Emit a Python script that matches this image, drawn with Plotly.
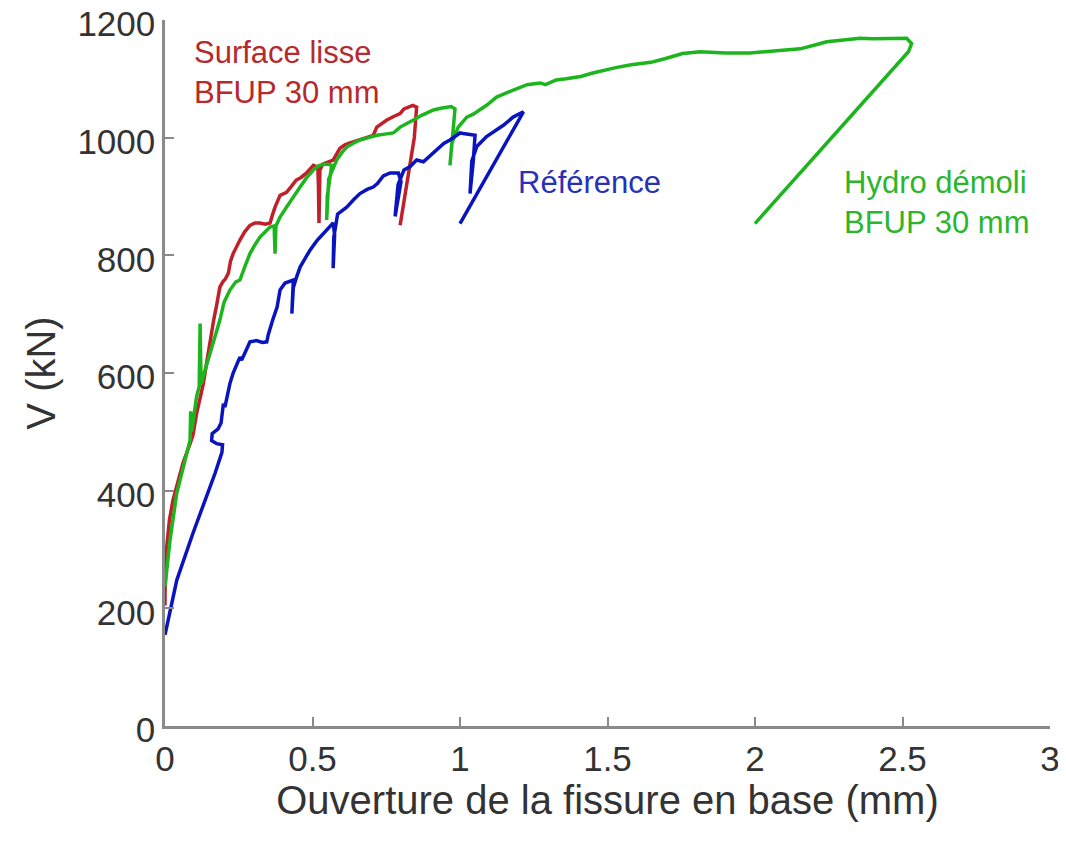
import plotly.graph_objects as go

# Surface lisse BFUP 30 mm (red)
red_x = [0, 0.0, 0.005, 0.015, 0.027, 0.045, 0.061, 0.085, 0.095, 0.107, 0.119, 0.13, 0.142, 0.153, 0.165,
         0.176, 0.186, 0.196, 0.205, 0.215, 0.222, 0.231, 0.242, 0.254, 0.27, 0.288, 0.305, 0.322, 0.34, 0.356,
         0.365, 0.373, 0.39, 0.40, 0.412, 0.425, 0.435, 0.445, 0.46, 0.48, 0.503, 0.518, 0.52, 0.522, 0.525,
         0.535, 0.55, 0.57, 0.593, 0.61, 0.627, 0.65, 0.672, 0.69, 0.706, 0.718, 0.735, 0.752, 0.775, 0.797,
         0.81, 0.824, 0.84, 0.853, 0.845, 0.797]
red_y = [205, 225, 300, 350, 384, 420, 447, 480, 495, 531, 560, 582, 620, 656, 690,
         718, 746, 755, 760, 770, 790, 803, 815, 826, 840, 851, 855, 855, 853, 855,
         870, 882, 902, 905, 907, 915, 922, 928, 932, 940, 953, 950, 920, 855, 945,
         955, 958, 962, 982, 988, 991, 995, 999, 1002, 1004, 1018, 1024, 1030, 1036, 1041,
         1049, 1052, 1055, 1052, 1000, 851]

# Hydro démoli BFUP 30 mm (green)
green_x = [0, 0.005, 0.017, 0.04, 0.061, 0.068, 0.08, 0.085, 0.087, 0.09, 0.096, 0.107, 0.116, 0.119, 0.122,
           0.124, 0.13, 0.153, 0.17, 0.186, 0.2, 0.22, 0.24, 0.254, 0.27, 0.288, 0.305, 0.322, 0.34, 0.356,
           0.37, 0.373, 0.376, 0.39, 0.412, 0.435, 0.458, 0.48, 0.503, 0.52, 0.537, 0.555, 0.565, 0.55, 0.548,
           0.555, 0.582, 0.6, 0.616, 0.64, 0.661, 0.69, 0.718, 0.745, 0.774, 0.797, 0.82, 0.842, 0.87, 0.91,
           0.935, 0.955, 0.97, 0.983, 0.975, 0.966, 0.972, 0.994, 1.023, 1.045, 1.068, 1.09, 1.124, 1.15, 1.181,
           1.227, 1.271, 1.29, 1.326, 1.36, 1.409, 1.45, 1.49, 1.528, 1.58, 1.647, 1.70, 1.754, 1.814, 1.85,
           1.9, 1.983, 2.03, 2.08, 2.153, 2.2, 2.243, 2.3, 2.356, 2.4, 2.45, 2.514, 2.531, 2.52, 2.0]
green_y = [237, 260, 316, 396, 440, 452, 480, 486, 535, 500, 520, 560, 577, 684, 590,
           582, 595, 633, 660, 690, 720, 741, 755, 758, 780, 803, 818, 831, 840, 848,
           850, 803, 850, 865, 882, 900, 916, 932, 945, 952, 955, 955, 953, 900, 860,
           930, 962, 975, 984, 991, 996, 1000, 1004, 1006, 1008, 1018, 1025, 1030, 1038, 1047,
           1050, 1052, 1053, 1049, 1000, 953, 990, 1018, 1035, 1040, 1047, 1055, 1069, 1075, 1081,
           1090, 1093, 1090, 1098, 1100, 1104, 1110, 1115, 1119, 1124, 1128, 1135, 1143, 1146, 1145,
           1144, 1144, 1146, 1148, 1151, 1157, 1163, 1166, 1169, 1168, 1169, 1169, 1160, 1146, 854]

# Référence (blue)
blue_x = [0, 0.04, 0.095, 0.141, 0.17, 0.193, 0.195, 0.175, 0.158, 0.16, 0.18, 0.19, 0.198, 0.203, 0.22,
          0.231, 0.254, 0.26, 0.288, 0.31, 0.33, 0.345, 0.35, 0.365, 0.38, 0.39, 0.407, 0.435, 0.43, 0.435,
          0.446, 0.458, 0.475, 0.492, 0.515, 0.537, 0.555, 0.57, 0.575, 0.57, 0.572, 0.585, 0.616, 0.64, 0.661,
          0.685, 0.706, 0.72, 0.729, 0.74, 0.763, 0.791, 0.8, 0.78, 0.79, 0.81, 0.831, 0.853, 0.876, 0.9,
          0.921, 0.945, 0.966, 1.0, 1.011, 1.03, 1.051, 1.045, 1.034, 1.04, 1.057, 1.09, 1.12, 1.147, 1.18,
          1.215, 1.0]
blue_y = [155, 248, 328, 390, 430, 465, 478, 480, 485, 497, 505, 515, 548, 542, 582,
          600, 627, 622, 653, 655, 652, 653, 665, 690, 712, 741, 753, 758, 701, 745,
          763, 780, 795, 809, 825, 837, 848, 855, 835, 778, 830, 870, 882, 895, 905,
          912, 916, 922, 928, 935, 940, 940, 925, 866, 920, 945, 951, 962, 959, 970,
          979, 990, 996, 1008, 1007, 1006, 1004, 960, 905, 960, 985, 1002, 1012, 1021, 1035,
          1044, 854]

x_ticks = [0, 0.5, 1, 1.5, 2, 2.5, 3]
x_tick_labels = ["0", "0.5", "1", "1.5", "2", "2.5", "3"]
y_ticks = [0, 200, 400, 600, 800, 1000, 1200]

RED = "#C0202A"
GREEN = "#1DB51D"
BLUE = "#0A14BE"

fig = go.Figure()
fig.add_trace(go.Scatter(x=red_x, y=red_y, mode="lines", line=dict(color=RED, width=3.5), name="Surface lisse"))
fig.add_trace(go.Scatter(x=green_x, y=green_y, mode="lines", line=dict(color=GREEN, width=3.5), name="Hydro démoli"))
fig.add_trace(go.Scatter(x=blue_x, y=blue_y, mode="lines", line=dict(color=BLUE, width=3.5), name="Référence"))

font_fam = "Liberation Sans, Arial, sans-serif"
ann = [
    dict(text="Surface lisse", x=0.102, y=1145, color="#B8282C"),
    dict(text="BFUP 30 mm", x=0.102, y=1077, color="#B8282C"),
    dict(text="Référence", x=1.2, y=924, color="#2A2FB8"),
    dict(text="Hydro démoli", x=2.305, y=923, color="#2DB52D"),
    dict(text="BFUP 30 mm", x=2.305, y=856, color="#2DB52D"),
]
for a in ann:
    fig.add_annotation(x=a["x"], y=a["y"], text=a["text"], showarrow=False, xanchor="left", yanchor="middle",
                       xref="x", yref="y", xshift=-3, font=dict(family=font_fam, size=31, color=a["color"]))

axis_common = dict(showgrid=False, zeroline=False, showline=True, linecolor="#8A8A8A", linewidth=2.5,
                   ticks="inside", ticklen=9, tickwidth=2, tickcolor="#8A8A8A",
                   ticklabeloverflow="allow", automargin=False,
                   tickfont=dict(family=font_fam, size=35, color="#333333"))

# body has an 8px margin in the written page; figure margins compensate for it
fig.update_layout(
    width=1058, height=836,
    margin=dict(l=157, r=16, t=12, b=118),
    paper_bgcolor="white", plot_bgcolor="white",
    showlegend=False,
    xaxis=dict(range=[0, 3], tickvals=x_ticks, ticktext=x_tick_labels,
               title=dict(text="Ouverture de la fissure en base (mm)", font=dict(family=font_fam, size=40, color="#333333"), standoff=10),
               **axis_common),
    yaxis=dict(range=[0, 1200], tickvals=y_ticks, ticklabelshift=4,
               title=dict(text="V (kN)", font=dict(family=font_fam, size=40, color="#333333"), standoff=10),
               **axis_common),
)

fig.write_html("out.html")
